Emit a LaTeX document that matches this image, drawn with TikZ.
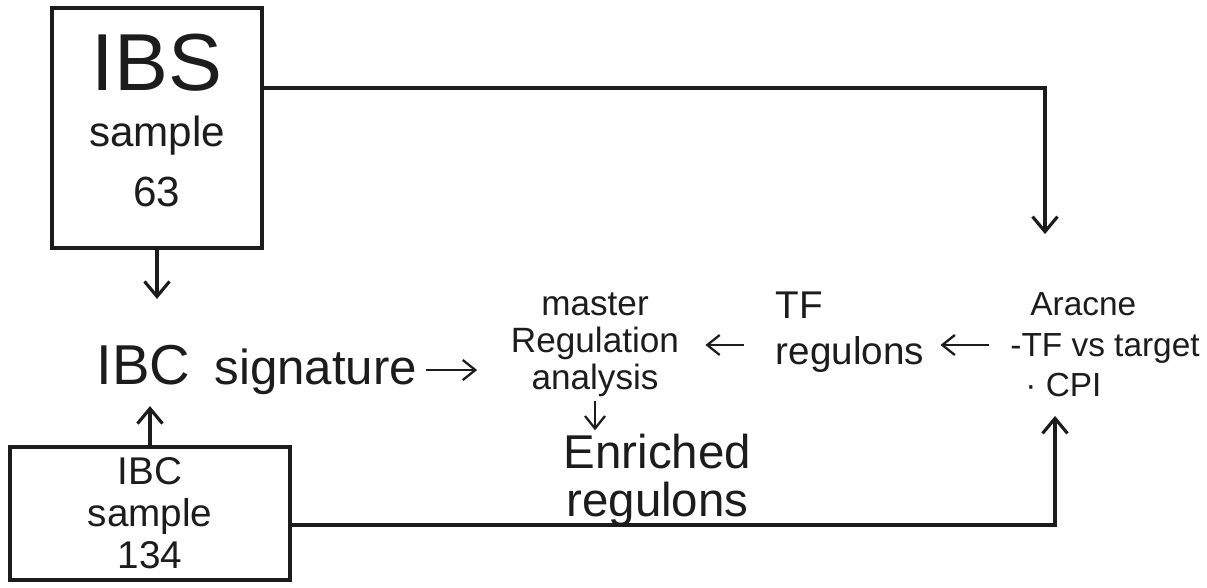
\documentclass[tikz,border=0pt]{standalone}
\usepackage{fontspec}
\setmainfont{Liberation Sans}
\usetikzlibrary{arrows.meta}
\definecolor{ink}{HTML}{1C1C1C}
\begin{document}
\begin{tikzpicture}[x=1cm,y=1cm,
  box/.style={draw=ink, line width=2.2pt, text=ink, align=center, inner sep=0pt},
  lbl/.style={text=ink, align=center, inner sep=2pt},
  conn/.style={draw=ink, line width=1.8pt, -{Straight Barb[length=3mm,width=5mm]}},
  sarrow/.style={draw=ink, line width=1.3pt, -{Straight Barb[length=2.5mm,width=4mm]}},
]
\useasboundingbox[fill=white] (0,0) rectangle (24.14,-11.74);

% boxes
\node[box, minimum width=4.2cm, minimum height=4.8cm, font=\fontsize{24}{30}\selectfont]
  (b1) at (3.14,-2.56) {\begin{tabular}{@{}c@{}}{\fontsize{46}{46}\selectfont IBS}\\[2pt]sample\\[4pt]63\end{tabular}};
\node[box, minimum width=5.6cm, minimum height=2.66cm, font=\fontsize{22}{24}\selectfont]
  (b2) at (3.0,-10.27) {IBC\\sample\\134};

% labels
\node[lbl, anchor=west, font=\fontsize{28}{28}\selectfont]
  (sig) at (1.85,-7.4) {{\fontsize{32}{32}\selectfont IBC}\hspace{0.5em}signature};
\node[lbl, font=\fontsize{20}{21}\selectfont] (mra) at (11.9,-6.9) {master\\Regulation\\analysis};
\node[lbl, align=left, font=\fontsize{22}{26}\selectfont] (tf) at (17.0,-6.65) {TF\\regulons};
\node[lbl, align=left, font=\fontsize{19}{23}\selectfont]
  (ara) at (22.1,-6.9) {\hspace*{0.4cm}Aracne\\-TF vs target\\\hspace*{0.3cm}· CPI};
\node[lbl, font=\fontsize{27}{27}\selectfont] (enr) at (13.15,-9.6) {Enriched\\regulons};

% connectors
\draw[conn, shorten >=0.85cm] (b1.south) -- (b1.south |- sig.north);
\draw[conn, shorten >=0.15cm] (b2.north) -- (b2.north |- sig.south);
\draw[sarrow, shorten <=0.1cm, shorten >=0.6cm] (sig.east) -- (sig.east -| mra.west);
\draw[sarrow, shorten <=0.55cm, shorten >=0.45cm] (mra.east -| tf.west) -- (mra.east);
\draw[sarrow, shorten <=0.35cm, shorten >=0.25cm] (ara.west) -- (ara.west -| tf.east);
\draw[sarrow] (mra.south) -- (mra.south |- enr.north);
\draw[conn, shorten >=1.1cm] ([yshift=0.8cm]b1.east) -| ([xshift=-1.2cm]ara.north);
\draw[conn, shorten >=0.3cm] ([yshift=-0.23cm]b2.east) -| ([xshift=-1.0cm]ara.south);
\end{tikzpicture}
\end{document}
